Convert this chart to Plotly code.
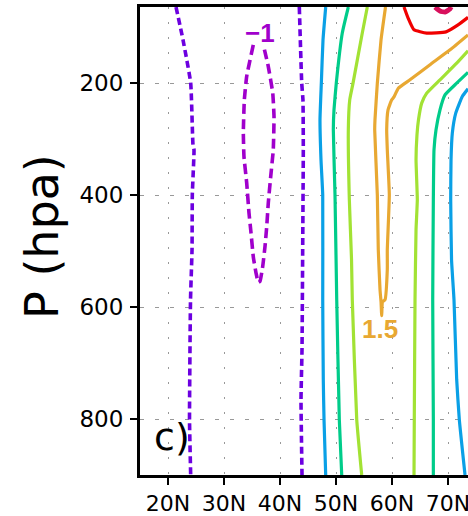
import plotly.graph_objects as go

# ---- contour lines (latitude in deg N, pressure in hPa) ----
neg05_a_lat = [21.43, 22.68, 24.05, 24.46, 24.64, 24.34, 24.29, 24.02, 23.84, 24.05]
neg05_a_p   = [64, 122.7, 199.5, 310, 319, 399.5, 497.7, 587, 801, 900]

neg05_b_lat = [43.45, 43.88, 44.10, 44.16, 44.05, 43.93, 43.75, 43.93]
neg05_b_p   = [64, 200, 230, 319, 498, 676, 765, 900]

neg1_lat = [35.23, 34.05, 33.63, 33.45, 33.57, 34.05, 34.46, 34.82, 35.23, 35.71, 36.13,
            36.43, 36.91, 37.32, 37.63, 37.91, 38.34, 38.80, 38.93, 38.70, 37.91, 37.02]
neg1_p   = [131.6, 188, 229.8, 288.8, 331.6, 378, 431.6, 467, 510, 538.8, 556,
            554, 527.5, 491.8, 456, 413.8, 366.8, 319, 259.6, 217.3, 170.4, 131.6]

blue_a_lat = [48.16, 47.68, 47.38, 47.14, 47.32, 47.63, 47.63, 47.73, 47.86, 48.16]
blue_a_p   = [64, 122.7, 200, 265.7, 337, 399.5, 587, 730, 801, 900]

teal_a_lat = [52.20, 51.13, 50.05, 49.64, 49.52, 49.82, 50.13, 50.59, 51.02]
teal_a_p   = [64, 110, 200, 247.7, 283, 399.5, 587, 801, 900]

ygrn_a_lat = [55.59, 54.70, 53.04, 52.45, 52.20, 52.38, 52.77, 52.91, 53.70, 54.59]
ygrn_a_p   = [64, 110, 200, 229.8, 283, 408, 515, 587, 801, 900]

orng_lat = [58.84, 58.04, 57.38, 56.96, 56.91, 57.38, 57.55, 57.86, 58.04, 58.16,
            58.30, 58.75, 59.16, 59.16, 59.52, 59.16, 59.05, 59.29, 59.95, 60.36,
            61.13, 63.21, 66.79, 70.36, 73.57]
orng_p   = [64, 122.7, 200, 265.7, 283.4, 399.5, 497.7, 569, 590.5, 615.5,
            590.5, 587, 533, 497.7, 399.5, 319, 283.4, 247.7, 229.8, 224.5,
            209, 194, 167, 140.5, 113.8]

red_lat = [62.14, 62.86, 63.93, 66.20, 69.64, 71.79, 73.57]
red_p   = [64, 83.4, 104.8, 110.7, 108.4, 96, 82.5]

crim_lat = [67.68, 68.57, 69.46, 70.36, 70.54]
crim_p   = [64, 71, 73, 67.3, 64]

ygrn_b_lat = [73.57, 71.55, 68.57, 66.20, 65.30, 64.73, 64.46, 64.29, 64.52, 64.29, 64.11, 63.98, 63.93]
ygrn_b_p   = [142.3, 164.3, 194, 217.9, 235.7, 265.5, 292.3, 337, 408.4, 462, 587, 801, 900]

teal_b_lat = [73.57, 71.55, 69.46, 68.57, 67.86, 67.50, 67.38, 67.27, 67.38, 67.38]
teal_b_p   = [180.7, 200, 221, 247.7, 283.4, 319, 408.4, 587, 801, 900]

blue_b_lat = [73.57, 72.55, 71.38, 70.77, 70.54, 70.48, 70.63, 71.07, 71.55, 72.02, 73.04]
blue_b_p   = [210.2, 223.9, 253.6, 289.3, 337, 408.4, 515.5, 587, 729.8, 801, 900]

x_ticks = [20, 30, 40, 50, 60, 70]
x_labels = ["20N", "30N", "40N", "50N", "60N", "70N"]
y_ticks = [200, 400, 600, 800]

VIOLET = "#6c00e0"
MAGENTA = "#a000cc"
BLUE = "#0aa0e6"
TEAL = "#00cc8a"
YGRN = "#a2e234"
ORNG = "#e8a832"
RED = "#f00000"
CRIM = "#d8105c"

fig = go.Figure()

def add(lat, p, color, width=3.2, dash=None):
    fig.add_trace(go.Scatter(
        x=lat, y=p, mode="lines",
        line=dict(color=color, width=width, dash=dash, shape="spline", smoothing=0.4),
        hoverinfo="skip", showlegend=False))

add(neg05_a_lat, neg05_a_p, VIOLET, 3.6, "7px,4px")
add(neg05_b_lat, neg05_b_p, VIOLET, 3.6, "7px,4px")
add(neg1_lat, neg1_p, MAGENTA, 3.6, "10px,5px")
add(blue_a_lat, blue_a_p, BLUE)
add(teal_a_lat, teal_a_p, TEAL)
add(ygrn_a_lat, ygrn_a_p, YGRN)
add(orng_lat, orng_p, ORNG)
add(red_lat, red_p, RED)
add(crim_lat, crim_p, CRIM, 5)
add(ygrn_b_lat, ygrn_b_p, YGRN)
add(teal_b_lat, teal_b_p, TEAL)
add(blue_b_lat, blue_b_p, BLUE)

fig.add_annotation(x=36.34, y=110, text="<b>−1</b>", showarrow=False,
                   font=dict(family="Liberation Sans", size=26, color=MAGENTA))
fig.add_annotation(x=57.86, y=640, text="<b>1.5</b>", showarrow=False,
                   font=dict(family="Liberation Sans", size=26, color=ORNG))
fig.add_annotation(x=20.66, y=833, text="c)", showarrow=False,
                   font=dict(family="DejaVu Sans", size=38, color="black"))
fig.add_annotation(xref="paper", yref="paper", x=-0.2988, y=0.5107,
                   xanchor="center", yanchor="middle",
                   text="P (hpa)", textangle=-90, showarrow=False,
                   font=dict(family="DejaVu Sans", size=46, color="black"))

fig.update_layout(
    width=468, height=516,
    margin=dict(l=140, r=0, t=7, b=41, autoexpand=False),
    plot_bgcolor="white", paper_bgcolor="white",
    showlegend=False,
    font=dict(family="DejaVu Sans", size=23, color="black"),
    xaxis=dict(range=[15, 73.57], tickvals=x_ticks, ticktext=x_labels,
               ticks="outside", ticklen=7, tickwidth=2, tickcolor="black",
               showline=True, linecolor="black", linewidth=3, mirror=True,
               showgrid=True, gridcolor="#999999", gridwidth=1, griddash="2px,13px",
               zeroline=False, tickfont=dict(size=22), automargin=False,
               ticklabeloverflow="allow"),
    yaxis=dict(range=[900, 64], tickvals=y_ticks,
               ticks="outside", ticklen=7, tickwidth=2, tickcolor="black",
               showline=True, linecolor="black", linewidth=3, mirror=False,
               showgrid=True, gridcolor="#999999", gridwidth=1, griddash="4px,11px",
               zeroline=False, tickfont=dict(size=23), ticklabelstandoff=2,
               automargin=False),
)

fig.write_html("out.html", config={"displayModeBar": False},
               post_script="document.body.style.margin='0';document.body.style.overflow='hidden';")
